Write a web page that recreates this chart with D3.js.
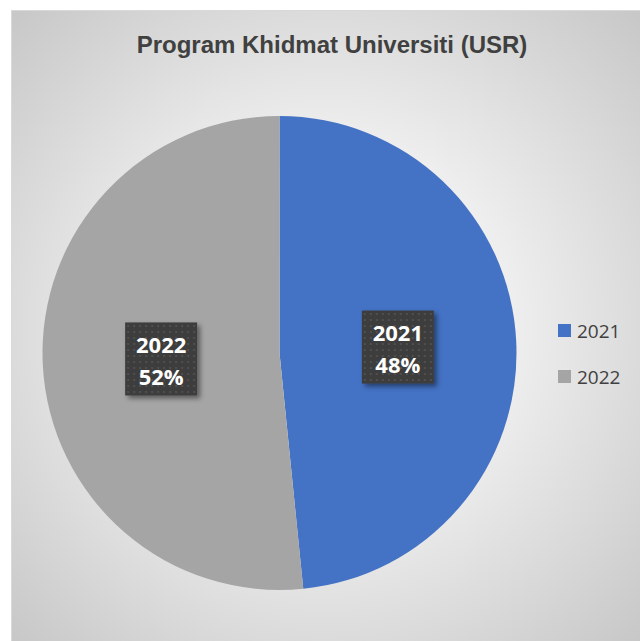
<!DOCTYPE html>
<html><head><meta charset="utf-8">
<script src="https://cdn.jsdelivr.net/npm/d3@7"></script>
<style>html,body{margin:0;padding:0;background:#fff;}</style>
</head><body>
<script>
const title = "Program Khidmat Universiti (USR)";
const categories = ["2021", "2022"];
const values = [48.4, 51.6];
const colors = ["#4472C4", "#A5A5A5"];

const W = 640, H = 641;
const svg = d3.select("body").append("svg").attr("width", W).attr("height", H);
const defs = svg.append("defs");
const rg = defs.append("radialGradient").attr("id", "bg").attr("cx", "50%").attr("cy", "50%").attr("r", "72%");
rg.append("stop").attr("offset", "0%").attr("stop-color", "#ffffff");
rg.append("stop").attr("offset", "30%").attr("stop-color", "#f6f6f6");
rg.append("stop").attr("offset", "100%").attr("stop-color", "#c6c6c6");
const pat = defs.append("pattern").attr("id", "dots").attr("width", 6).attr("height", 6).attr("patternUnits", "userSpaceOnUse");
pat.append("rect").attr("width", 6).attr("height", 6).attr("fill", "#3c3c3c");
pat.append("circle").attr("cx", 3).attr("cy", 3).attr("r", 1.1).attr("fill", "#545454");
const sh = defs.append("filter").attr("id", "shadow").attr("x", "-20%").attr("y", "-20%").attr("width", "150%").attr("height", "150%");
sh.append("feDropShadow").attr("dx", 3).attr("dy", 3).attr("stdDeviation", 2.5).attr("flood-color", "#000").attr("flood-opacity", 0.45);

svg.append("rect").attr("x", 11.5).attr("y", 10.5).attr("width", W - 11).attr("height", H - 10)
  .attr("fill", "url(#bg)").attr("stroke", "#d9d9d9");

svg.append("text").attr("x", 332).attr("y", 53).attr("text-anchor", "middle")
  .attr("font-family", "Liberation Sans, Arial, sans-serif").attr("font-weight", "bold")
  .attr("font-size", 24).attr("fill", "#404040").text(title);

const cx = 279.5, cy = 353, R = 237;
const data = categories.map((c, i) => ({ cat: c, value: values[i], color: colors[i] }));
const pie = d3.pie().value(d => d.value).sort(null);
const arcs = pie(data);
const arc = d3.arc().innerRadius(0).outerRadius(R);
const g = svg.append("g").attr("transform", `translate(${cx},${cy})`);
g.selectAll("path").data(arcs).join("path").attr("d", arc).attr("fill", d => d.data.color);

const total = d3.sum(values);
const labelArc = d3.arc().innerRadius(R * 0.5).outerRadius(R * 0.5);
const bw = 72, bh = 73;
arcs.forEach(a => {
  const [lx, ly] = labelArc.centroid(a);
  const lg = g.append("g").attr("transform", `translate(${lx},${ly})`);
  lg.append("rect").attr("x", -bw / 2).attr("y", -bh / 2).attr("width", bw).attr("height", bh)
    .attr("fill", "url(#dots)").attr("filter", "url(#shadow)");
  const t = lg.append("text").attr("text-anchor", "middle").attr("fill", "#fff")
    .attr("font-family", "Open Sans, Lato, sans-serif").attr("font-weight", "bold").attr("font-size", 22);
  t.append("tspan").attr("x", 0).attr("y", -6).text(a.data.cat);
  t.append("tspan").attr("x", 0).attr("y", 26).text(Math.round(a.data.value / total * 100) + "%");
});

const leg = svg.append("g");
categories.forEach((c, i) => {
  const y = 324 + i * 46;
  leg.append("rect").attr("x", 558).attr("y", y).attr("width", 13).attr("height", 13).attr("fill", colors[i]);
  leg.append("text").attr("x", 577).attr("y", y + 13.5).attr("font-family", "Open Sans, Lato, sans-serif")
    .attr("font-size", 19).attr("fill", "#404040").text(c);
});
</script>
</body></html>
